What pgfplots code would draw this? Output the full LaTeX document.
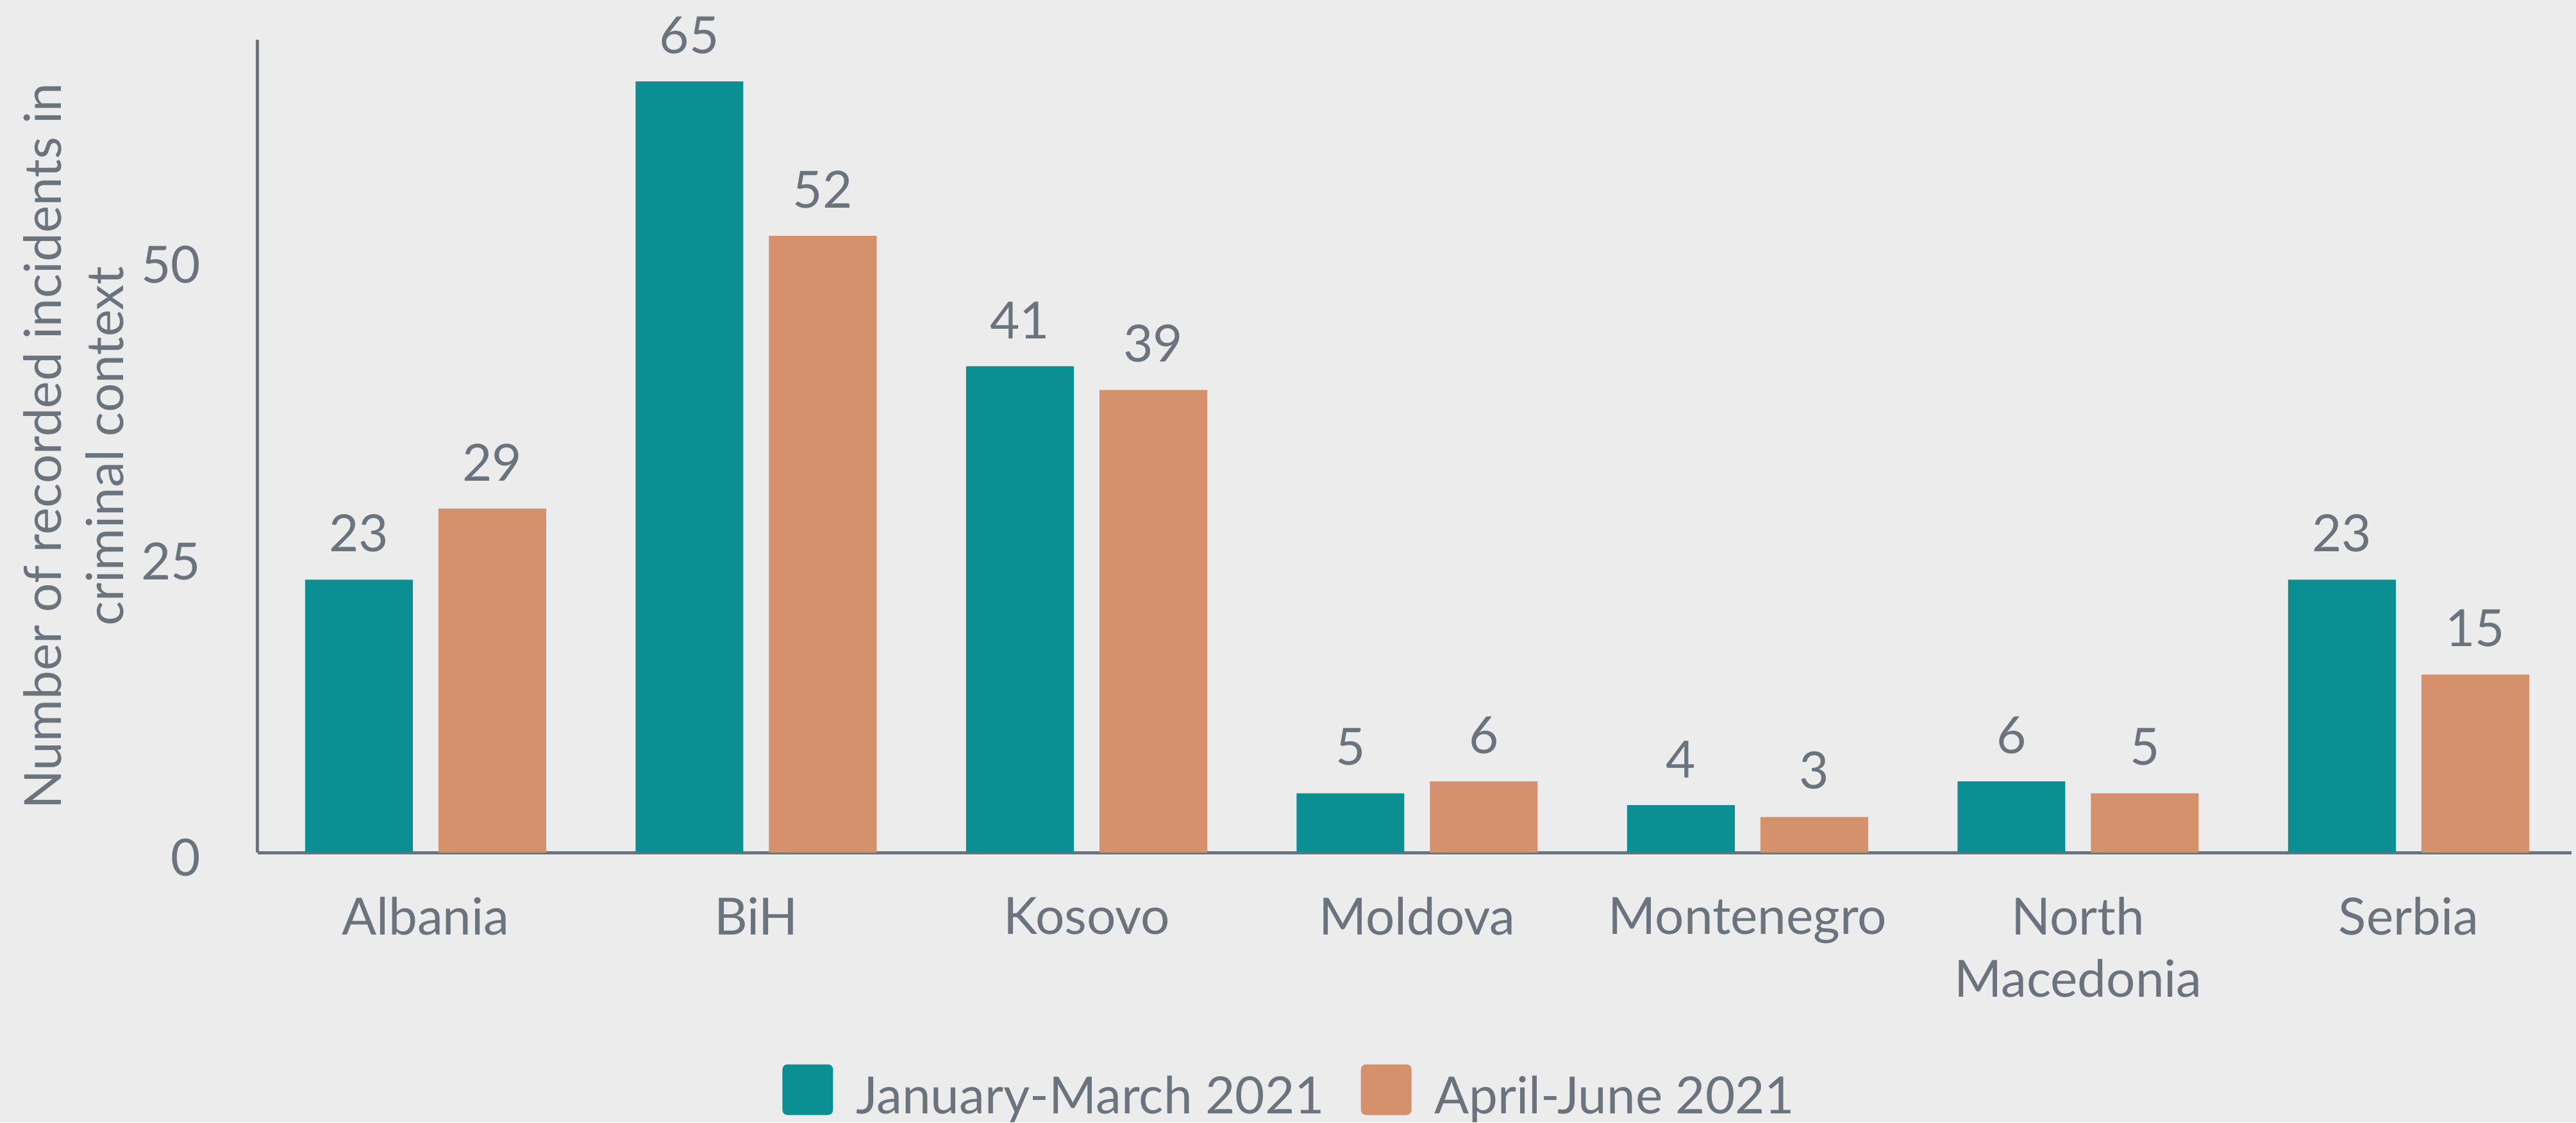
\documentclass[border=0pt]{standalone}
\usepackage{pgfplots}
\pgfplotsset{compat=1.18}
\usepackage{fontspec}
\setmainfont{Lato}
\definecolor{teal1}{HTML}{0C8F93}
\definecolor{sand}{HTML}{D4916C}
\definecolor{txt}{HTML}{6B747D}
\definecolor{bgc}{HTML}{ECECEC}
\newcommand{\lf}{\fontsize{8}{9.7}\selectfont}
\begin{document}
\begin{tikzpicture}
\fill[bgc] (-40.2pt,-42.1pt) rectangle (361.6pt,133.0pt);
\useasboundingbox (-40.2pt,-42.1pt) rectangle (361.6pt,133.0pt);
\begin{axis}[scale only axis,width=360.9pt,height=126.75pt,
  at={(0pt,0pt)},anchor=south west,
  ybar=4pt,bar width=16.8pt,
  xmin=-0.508,xmax=6.493,ymin=0,ymax=68.5,
  xtick=data,xticklabels={Albania,BiH,Kosovo,Moldova,Montenegro,{North\\Macedonia},Serbia},
  ytick={0,25,50},
  /pgf/number format/assume math mode=true,
  axis x line*=bottom,axis y line*=left,
  axis line style={-,draw=txt,line width=0.5pt},
  major tick length=0pt,tick style={draw=none},
  ticklabel style={font=\lf,text=txt},
  xticklabel style={anchor=north,inner sep=0pt,yshift=-6.8pt,align=center},
  yticklabel style={anchor=east,inner sep=0pt,xshift=-8.7pt,yshift=-0.8pt},
  ylabel={Number of recorded incidents in\\criminal context},
  y label style={at={(axis description cs:-0.1017,0.5)},anchor=north,inner sep=0pt,
    align=center,font=\lf,text=txt},
  nodes near coords,
  every node near coord/.append style={font=\lf,text=txt,inner sep=0pt,yshift=4.1pt,anchor=south},
  legend columns=2,
  legend style={at={(axis description cs:0.4455,-0.297)},anchor=center,draw=none,fill=none,
    font=\lf,text=txt,inner sep=0pt,
    nodes={inner sep=0pt},
    /tikz/every odd column/.append style={column sep=3.6pt},
    /tikz/every even column/.append style={column sep=5.7pt}},
  legend image code/.code={\fill[#1,draw=none,rounded corners=0.8pt] (0pt,-2.4pt) rectangle (7.9pt,5.5pt);},
]
\addplot[fill=teal1,draw=none] coordinates {(0,23)(1,65)(2,41)(3,5)(4,4)(5,6)(6,23)};
\addplot[fill=sand,draw=none] coordinates {(0,29)(1,52)(2,39)(3,6)(4,3)(5,5)(6,15)};
\legend{January-March 2021,April-June 2021}
\end{axis}
\end{tikzpicture}
\end{document}
